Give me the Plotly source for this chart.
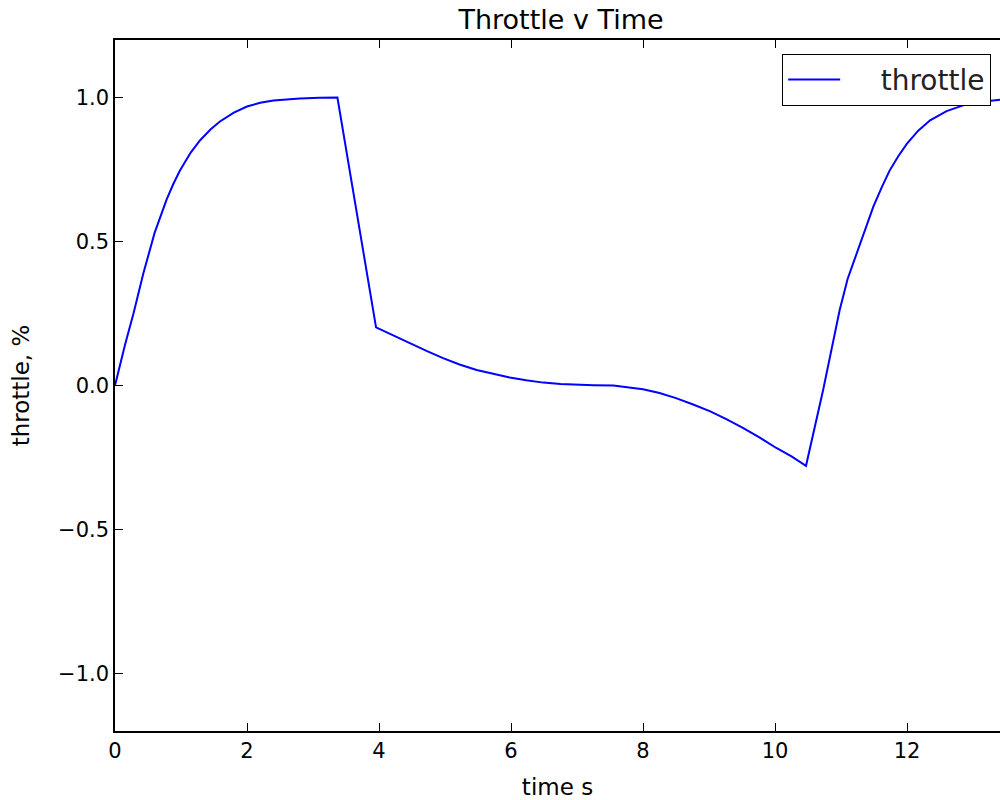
import plotly.graph_objects as go

time_s = [0.0, 0.15, 0.28, 0.43, 0.6, 0.78, 0.88, 0.98, 1.07, 1.15, 1.29, 1.45, 1.59, 1.8, 2.0, 2.2, 2.4, 2.6, 2.8, 3.1, 3.37,
          3.955, 4.2, 4.47, 4.72, 4.97, 5.22, 5.48, 5.73, 5.98, 6.23, 6.49, 6.75, 6.99, 7.25, 7.55,
          7.8, 8.0, 8.25, 8.5, 8.75, 9.02, 9.27, 9.52, 9.77, 10.02, 10.25, 10.47,
          10.73, 10.98, 11.1, 11.24, 11.37, 11.49, 11.62, 11.74, 11.87, 12.0, 12.17, 12.35,
          12.6, 12.85, 13.1, 13.36, 13.5]
throttle = [0.0, 0.14, 0.25, 0.39, 0.53, 0.645, 0.698, 0.745, 0.78, 0.81, 0.852, 0.89, 0.917, 0.948, 0.969, 0.982, 0.99, 0.994, 0.997, 0.999, 1.0,
            0.202, 0.175, 0.147, 0.12, 0.095, 0.073, 0.054, 0.04, 0.028, 0.018, 0.010, 0.005, 0.002, 0.001, 0.0,
            -0.006, -0.013, -0.026, -0.044, -0.065, -0.09, -0.118, -0.148, -0.181, -0.217, -0.246, -0.279,
            -0.015, 0.262, 0.37, 0.459, 0.545, 0.621, 0.69, 0.748, 0.797, 0.84, 0.885, 0.921,
            0.953, 0.973, 0.985, 0.993, 0.995]

x_ticks = [0, 2, 4, 6, 8, 10, 12]
y_ticks = [-1.0, -0.5, 0.0, 0.5, 1.0]

FONT = "DejaVu Sans"

fig = go.Figure()
fig.add_trace(go.Scatter(x=time_s, y=throttle, mode="lines", name="\u00a0\u00a0\u00a0\u00a0throttle",
                         line=dict(color="#0000ff", width=2)))

fig.update_layout(
    width=1000, height=800,
    margin=dict(l=115, r=0, t=40, b=69),
    paper_bgcolor="white", plot_bgcolor="white",
    font=dict(family=FONT, color="#000000", size=21),
    title=dict(text="Throttle v Time", x=(561 - 115) / 885, xref="paper", xanchor="center",
               y=1 - 20 / 800, yref="container", yanchor="middle",
               font=dict(family=FONT, size=27, color="#000000")),
    showlegend=True,
    legend=dict(x=0.990, y=0.98, xanchor="right", yanchor="top",
                bgcolor="white", bordercolor="#000000", borderwidth=1,
                itemwidth=52,
                font=dict(family=FONT, size=28, color="#222222")),
)
fig.update_xaxes(range=[0, 885 / 66], tickvals=x_ticks, ticktext=[str(v) for v in x_ticks],
                 showgrid=False, zeroline=False, showline=True, linecolor="#000000", linewidth=1.5,
                 mirror="ticks", ticks="inside", ticklen=8, tickcolor="#000000", tickwidth=1,
                 title=dict(text="time s", font=dict(family=FONT, size=23), standoff=18))
fig.update_yaxes(range=[-1.2, 1.2], tickvals=y_ticks, tickformat=".1f",
                 showgrid=False, zeroline=False, showline=True, linecolor="#000000", linewidth=1.5,
                 mirror=False, ticks="inside", ticklen=8, tickcolor="#000000", tickwidth=1,
                 title=dict(text="throttle, %", font=dict(family=FONT, size=23), standoff=22))

fig.write_html("out.html", config={"displayModeBar": False},
               post_script="document.body.style.margin='0px';")
